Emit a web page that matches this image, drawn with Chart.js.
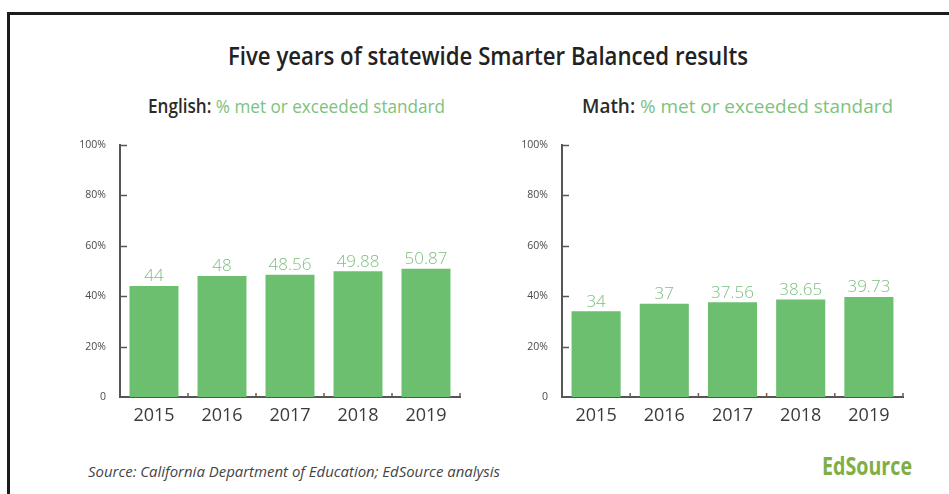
<!DOCTYPE html>
<html>
<head>
<meta charset="utf-8">
<script src="https://cdn.jsdelivr.net/npm/chart.js@4.4.0/dist/chart.umd.min.js"></script>
<style>
  body { margin: 0; background: #fff; width: 949px; height: 494px; overflow: hidden; position: relative; }
  .frame { position: absolute; left: 7px; top: 12px; width: 960px; height: 500px; border-top: 3px solid #1c1c1c; border-left: 3px solid #1c1c1c; }
  .fit { position: absolute; white-space: nowrap; transform-origin: 0 50%; }
  .title { left: 228px; top: 37px; font: 600 26px "Open Sans", sans-serif; color: #222; }
  .sub { top: 93px; font: 600 19px "Open Sans", sans-serif; color: #2a2a2a; }
  .sub span { color: #7dc27f; font-weight: normal; }
  .src { left: 88px; top: 462px; font: italic 14px "Open Sans", sans-serif; color: #444; }
  .brand { left: 822px; top: 448px; font: bold 25px "Open Sans", sans-serif; color: #7fae45; }
  .box { position: absolute; top: 120px; height: 320px; }
</style>
</head>
<body>
<div class="frame"></div>
<div class="fit title" data-w="520">Five years of statewide Smarter Balanced results</div>
<div class="fit sub" style="left:148px" data-w="297">English: <span>% met or exceeded standard</span></div>
<div class="fit sub" style="left:582px" data-w="311">Math: <span>% met or exceeded standard</span></div>
<div class="box" style="left:0;width:475px"><canvas id="englishCanvas"></canvas></div>
<div class="box" style="left:475px;width:474px"><canvas id="mathCanvas"></canvas></div>
<div class="fit src" data-w="412">Source: California Department of Education; EdSource analysis</div>
<div class="fit brand" data-w="90">EdSource</div>

<script>
const years = ['2015', '2016', '2017', '2018', '2019'];
const englishValues = [44, 48, 48.56, 49.88, 50.87];
const mathValues = [34, 37, 37.56, 38.65, 39.73];
const yTicks = [0, 20, 40, 60, 80, 100];

const barGreen = '#6bbf6f';
const labelGreen = '#7dbf80';
const axisGray = '#555';

// squeeze text blocks to the widths seen in the original (condensed face)
document.querySelectorAll('.fit').forEach(el => {
    const w = el.getBoundingClientRect().width;
    el.style.transform = 'scaleX(' + (Number(el.dataset.w) / w) + ')';
});

// value labels above bars + small inward tick marks
const extras = {
    id: 'extras',
    afterDatasetsDraw(chart) {
        const ctx = chart.ctx;
        const meta = chart.getDatasetMeta(0);
        const values = chart.data.datasets[0].data;
        ctx.save();
        ctx.fillStyle = labelGreen;
        ctx.font = '300 17px "Open Sans", sans-serif';
        ctx.textAlign = 'center';
        ctx.textBaseline = 'bottom';
        meta.data.forEach((bar, i) => {
            ctx.fillText(String(values[i]), bar.x, bar.y - 1);
        });

        const y = chart.scales.y;
        const x = chart.scales.x;
        ctx.strokeStyle = axisGray;
        ctx.lineWidth = 1.5;
        yTicks.slice(1).forEach(v => {
            const py = Math.round(y.getPixelForValue(v)) + 0.5;
            ctx.beginPath();
            ctx.moveTo(x.left, py);
            ctx.lineTo(x.left + 7, py);
            ctx.stroke();
        });
        ctx.strokeStyle = '#7a5555';
        const step = x.width / years.length;
        for (let i = 1; i <= years.length; i++) {
            const px = x.left + i * step;
            ctx.beginPath();
            ctx.moveTo(px, y.bottom);
            ctx.lineTo(px, y.bottom - 4);
            ctx.stroke();
        }
        ctx.restore();
    }
};

function makeChart(id, values, padRight, yWidth) {
    return new Chart(document.getElementById(id), {
        type: 'bar',
        data: {
            labels: years,
            datasets: [{
                data: values,
                backgroundColor: barGreen,
                borderWidth: 0,
                barPercentage: 0.72,
                categoryPercentage: 1.0
            }]
        },
        options: {
            responsive: true,
            maintainAspectRatio: false,
            animation: false,
            layout: { padding: { top: 25, right: padRight, left: 0, bottom: 0 } },
            plugins: { legend: { display: false }, tooltip: { enabled: false } },
            scales: {
                x: {
                    grid: { display: false },
                    border: { color: axisGray, width: 2 },
                    ticks: { color: '#3a3a3a', font: { family: 'Open Sans', size: 18 }, padding: 0 },
                    afterFit(scale) { scale.height = 43; }
                },
                y: {
                    min: 0,
                    max: 100,
                    afterBuildTicks(scale) { scale.ticks = yTicks.map(v => ({ value: v })); },
                    grid: { display: false },
                    border: { color: axisGray, width: 2 },
                    ticks: {
                        color: '#4a4a4a',
                        font: { family: 'Open Sans', size: 10.5 },
                        padding: 6,
                        callback: v => v === 0 ? '0' : v + '%'
                    },
                    afterFit(scale) { scale.width = yWidth; }
                }
            }
        },
        plugins: [extras]
    });
}

makeChart('englishCanvas', englishValues, 15, 120);
makeChart('mathCanvas', mathValues, 46, 87);
</script>
</body>
</html>
